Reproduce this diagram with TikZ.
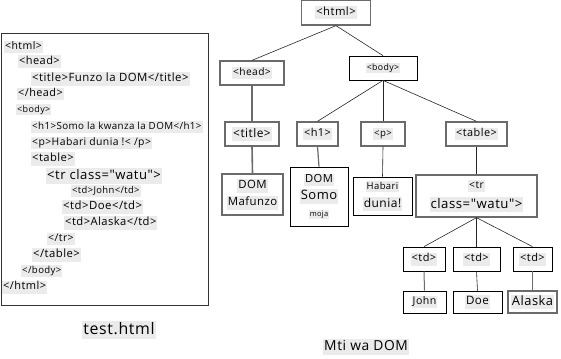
\documentclass[tikz,border=0pt]{standalone}
\usepackage{fontspec}
\newfontfamily\opensans{Open Sans}[LetterSpace=4]
\usetikzlibrary{calc}

\definecolor{hlgray}{gray}{0.92}
\definecolor{framegray}{gray}{0.42}

% font size and leading
\newcommand{\setfs}[2]{\opensans\fontsize{#1}{#2}\selectfont}
% grey text highlight
\newcommand{\hlbox}[1]{{\setlength{\fboxsep}{1pt}\colorbox{hlgray}{\vphantom{Ay}#1}}}

\tikzset{
  codeline/.style={anchor=west, inner sep=0pt},
  tagbox/.style={draw=framegray, line width=1.3pt, inner sep=1pt, align=center},
  leafbox/.style={draw=black, line width=0.7pt, inner sep=1pt, align=center},
  link/.style={draw=black!85, line width=0.6pt},
  thicklink/.style={draw=framegray, line width=1.6pt},
}

\begin{document}
\begin{tikzpicture}[x=1pt,y=-1pt]
\useasboundingbox (0,0) rectangle (561,358);

% source file panel
\draw[draw=black!80, line width=0.9pt] (1,33) rectangle (208,305);

% code lines: x / y / size / text
\foreach \x/\y/\s/\txt [count=\i] in {
  4/47/10.5/{<html>},
  18/62/11/{<head>},
  31/79/11.4/{<title>Funzo la DOM</title>},
  17/94/10.9/{</head>},
  16/110/9/{<body>},
  31/127/9.8/{<h1>Somo la kwanza la DOM</h1>},
  31/143/10.4/{<p>Habari dunia !< /p>},
  31/159/11.2/{<table>},
  46/176/13.1/{<tr class="watu">},
  71/191/9.4/{<td>John</td>},
  62/207/11.4/{<td>Doe</td>},
  64/223/11.2/{<td>Alaska</td>},
  47/239/10.5/{</tr>},
  32/255/11.3/{</table>},
  21/271/9.6/{</body>},
  2/287/11/{</html>}}
{
  \node[codeline] (code\i) at (\x,\y) {\setfs{\s}{\s}\hlbox{\txt}};
}

% tree level 0 and 1
\node[tagbox, minimum width=69pt, minimum height=25pt, font=\setfs{11.3}{12}] (html) at (336,12.5) {\hlbox{<html>}};
\node[tagbox, minimum width=64pt, minimum height=24pt, font=\setfs{10.2}{12}] (head) at (252,73) {\hlbox{<head>}};
\node[leafbox, minimum width=68pt, minimum height=24pt, font=\setfs{8.8}{12}] (body) at (383,68) {\hlbox{<body>}};

% tree level 2
\node[tagbox, minimum width=54pt, minimum height=24pt, font=\setfs{11.9}{12}] (title) at (252,134) {\hlbox{<title>}};
\node[tagbox, minimum width=41pt, minimum height=24pt, font=\setfs{11}{12}] (h1) at (317.5,134) {\hlbox{<h1>}};
\node[tagbox, minimum width=44pt, minimum height=24pt, font=\setfs{9.6}{12}] (p) at (383,134) {\hlbox{<p>}};
\node[tagbox, minimum width=61pt, minimum height=24pt, font=\setfs{10.9}{12}] (table) at (476.5,134) {\hlbox{<table>}};

% tree level 3
\node[tagbox, minimum width=61pt, minimum height=41pt, font=\setfs{11.4}{17}] (mafunzo) at (252.5,194.5) {\hlbox{DOM}\\\hlbox{Mafunzo}};
\node[leafbox, minimum width=58pt, minimum height=59pt, font=\setfs{12}{17}] (somo) at (319,196.5)
  {\setfs{11.2}{17}\hlbox{DOM}\\\setfs{13}{17}\hlbox{Somo}\\\setfs{7.5}{15}\hlbox{moja}};
\node[leafbox, minimum width=59pt, minimum height=38pt, font=\setfs{12}{18}] (habari) at (382.5,196)
  {\setfs{9.5}{18}\hlbox{Habari}\\\setfs{12}{18}\hlbox{dunia!}};
\node[tagbox, minimum width=121pt, minimum height=42pt, font=\setfs{13.2}{20}] (tr) at (476.5,196)
  {\setfs{10.3}{20}\hlbox{<tr}\\\setfs{13.2}{20}\hlbox{class="watu">}};

% cells and their text
\node[leafbox, minimum width=42pt, minimum height=24pt, font=\setfs{11}{12}] (td1) at (424,259) {\hlbox{<td>}};
\node[leafbox, minimum width=47pt, minimum height=24pt, font=\setfs{11}{12}] (td2) at (476.5,259) {\hlbox{<td>}};
\node[leafbox, minimum width=39pt, minimum height=24pt, font=\setfs{11}{12}] (td3) at (532.5,259) {\hlbox{<td>}};
\node[leafbox, minimum width=43pt, minimum height=22pt, font=\setfs{10.6}{12}] (john) at (424.5,302) {\hlbox{John}};
\node[leafbox, minimum width=49pt, minimum height=22pt, font=\setfs{11.6}{12}] (doe) at (477.5,302) {\hlbox{Doe}};
\node[tagbox, minimum width=49pt, minimum height=22pt, font=\setfs{12.9}{13}] (alaska) at (532.5,302) {\hlbox{Alaska}};

% captions
\node (filecap) at (119,330) {\setfs{15.9}{16}\hlbox{test.html}};
\node (treecap) at (366,347) {\setfs{13.8}{14}\hlbox{Mti wa DOM}};

% connectors
\draw[link] (html.south) -- (head.north);
\draw[link] (html.south) -- (body.north);
\draw[thicklink] (head.south) -- (title.north);
\draw[link] (body.south) -- (h1.north);
\draw[link] (body.south) -- (p.north);
\draw[link] (body.south) -- (table.north);
\draw[thicklink] (title.south) -- (mafunzo.north);
\draw[draw=framegray, line width=1.2pt] (h1.south) -- (somo.north);
\draw[link] (p.south) -- (habari.north);
\draw[link] (table.south) -- (tr.north);
\foreach \c in {td1,td2,td3}
  \draw[link] (tr.south) -- (\c.north);
\draw[draw=framegray, line width=1pt] (td1.south) -- (john.north);
\draw[link] (td2.south) -- (doe.north);
\draw[draw=framegray, line width=1pt] (td3.south) -- (alaska.north);

\end{tikzpicture}
\end{document}
